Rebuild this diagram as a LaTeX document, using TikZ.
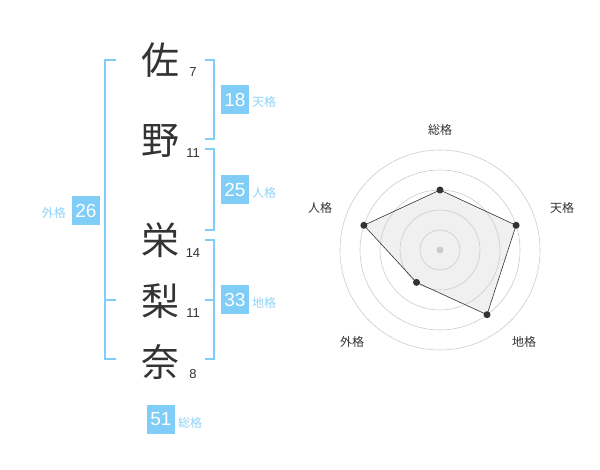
\documentclass[tikz,border=0pt]{standalone}
\usepackage{fontspec}
\setmainfont{Liberation Sans}
\newfontfamily\jpfont{Noto Sans CJK JP}
\definecolor{sky}{HTML}{80CDF8}
\definecolor{skytxt}{HTML}{8FD3F7}
\definecolor{ink}{HTML}{333333}
\begin{document}
\begin{tikzpicture}[x=1pt,y=-1pt,
  kan/.style={font=\jpfont\fontsize{38}{38}\selectfont, text=ink, inner sep=0},
  strk/.style={font=\fontsize{13}{13}\selectfont, text=ink, inner sep=0},
  box/.style={fill=sky, text=white, minimum width=28pt, minimum height=29pt, inner sep=0, font=\fontsize{19}{19}\selectfont},
  lab/.style={font=\jpfont\fontsize{12}{12}\selectfont, text=skytxt, inner sep=0},
  brk/.style={draw=sky, line width=1.5pt},
  ring/.style={draw=black!20, line width=0.6pt},
  rlab/.style={font=\jpfont\fontsize{12}{12}\selectfont, text=ink, inner sep=0},
  pt/.style={circle, fill=ink, inner sep=0, minimum size=7pt}]
\useasboundingbox (0,0) rectangle (600,470);
% kanji
\node[kan] (k1) at (160,60) {佐};
\node[kan] (k2) at (160,141) {野};
\node[kan] (k3) at (160,240) {栄};
\node[kan] (k4) at (160,301) {梨};
\node[kan] (k5) at (160,362) {奈};
\node[strk] (s1) at (193,72) {7};
\node[strk] (s2) at (193,153) {11};
\node[strk] (s3) at (193,253) {14};
\node[strk] (s4) at (193,313) {11};
\node[strk] (s5) at (193,374) {8};
% brackets
\draw[brk] (116,60) -- (105,60) -- (105,359) -- (116,359);
\draw[brk] (105,300) -- (116,300);
\draw[brk] (205,60) -- (214,60) -- (214,139) -- (205,139);
\draw[brk] (205,149) -- (214,149) -- (214,230) -- (205,230);
\draw[brk] (205,240) -- (214,240) -- (214,359) -- (205,359);
\draw[brk] (205,300) -- (214,300);
% boxes
\node[box] (b18) at (235,100) {18};
\node[lab, anchor=west] (l18) at (252,102) {天格};
\node[box] (b25) at (235,190) {25};
\node[lab, anchor=west] (l25) at (252,193) {人格};
\node[box] (b33) at (235,300) {33};
\node[lab, anchor=west] (l33) at (252,303) {地格};
\node[box] (b26) at (86,211) {26};
\node[lab, anchor=east] (l26) at (66,213) {外格};
\node[box] (b51) at (161,419) {51};
\node[lab, anchor=west] (l51) at (178,423) {総格};
% radar
\coordinate (c) at (440,250);
\fill[black!6] (440,190) -- (516.1,225.3) -- (487.0,314.7) -- (416.5,282.4) -- (363.9,225.3) -- cycle;
\foreach \r in {20,40,60,80,100} \draw[ring] (c) circle (\r);
\fill[black!20] (c) circle (3.5);
\draw[ink, line width=0.6pt] (440,190) -- (516.1,225.3) -- (487.0,314.7) -- (416.5,282.4) -- (363.9,225.3) -- cycle;
\node[pt] (p1) at (440,190) {};
\node[pt] (p2) at (516.1,225.3) {};
\node[pt] (p3) at (487.0,314.7) {};
\node[pt] (p4) at (416.5,282.4) {};
\node[pt] (p5) at (363.9,225.3) {};
\node[rlab] (r1) at (440,130) {総格};
\node[rlab] (r2) at (562,208) {天格};
\node[rlab] (r3) at (524,342) {地格};
\node[rlab] (r4) at (352,342) {外格};
\node[rlab] (r5) at (320,208) {人格};
\end{tikzpicture}
\end{document}
